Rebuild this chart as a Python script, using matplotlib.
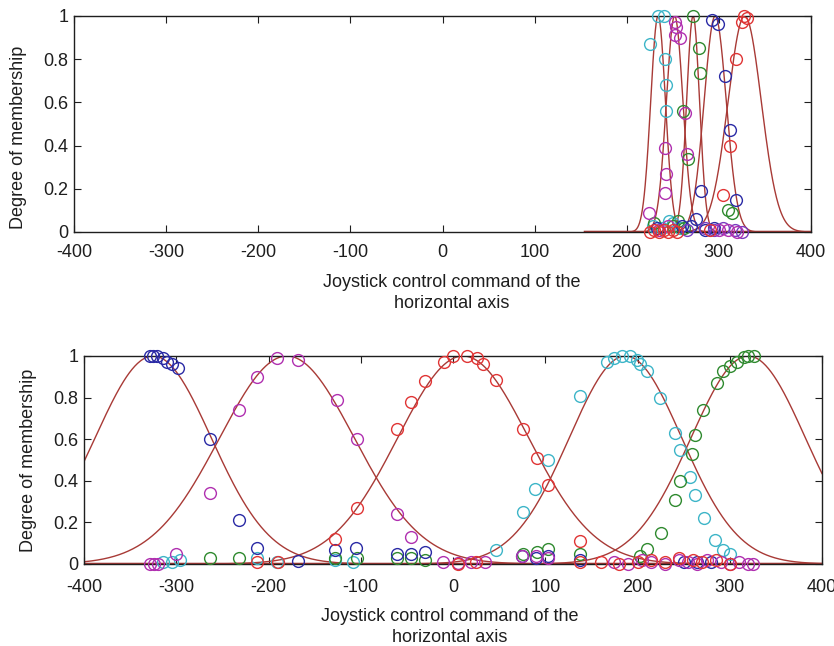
import numpy as np
import matplotlib
matplotlib.use("Agg")
import matplotlib.pyplot as plt

plt.rcParams['font.family'] = ['Liberation Sans', 'DejaVu Sans']

# ---------------- data ----------------
x_ticks = [-400, -300, -200, -100, 0, 100, 200, 300, 400]
y_ticks = [0, 0.2, 0.4, 0.6, 0.8, 1]
y_tick_labels = ['0', '0.2', '0.4', '0.6', '0.8', '1']
x_label = "Joystick control command of the\nhorizontal axis"
y_label = "Degree of membership"

# top panel: gaussian membership functions (centre, sigma)
top_centres = [234, 252, 272, 296, 328]
top_sigmas = [8, 9, 7, 12, 18]
top_range = (155, 400)

# bottom panel
bot_centres = [-325, -180, 11, 187, 320]
bot_sigmas = [63, 73, 71, 61, 62]
bot_range = (-400, 400)

# top panel points
top_cyan_x = [225, 234, 240, 242, 243, 243, 228, 238, 250, 258, 246]
top_cyan_y = [0.87, 1.0, 1.0, 0.80, 0.68, 0.56, 0.03, 0.02, 0.04, 0.02, 0.05]
top_mag_x = [252, 254, 252, 258, 242, 243, 242, 224, 265, 263, 235, 300, 310, 320, 245]
top_mag_y = [0.97, 0.95, 0.91, 0.90, 0.39, 0.27, 0.18, 0.09, 0.36, 0.55, 0.01, 0.01, 0.01, 0.0, 0.03]
top_green_x = [272, 278, 280, 261, 267, 310, 314, 250, 256, 262, 230]
top_green_y = [1.0, 0.85, 0.735, 0.56, 0.34, 0.10, 0.09, 0.03, 0.05, 0.02, 0.04]
top_blue_x = [292, 299, 307, 312, 281, 319, 233, 260, 275, 285, 295, 270]
top_blue_y = [0.98, 0.965, 0.72, 0.47, 0.19, 0.15, 0.02, 0.03, 0.06, 0.01, 0.02, 0.03]
top_red_x = [325, 327, 330, 319, 312, 305, 225, 230, 235, 240, 245, 250, 255, 290]
top_red_y = [0.97, 1.0, 0.99, 0.80, 0.40, 0.17, 0.0, 0.01, 0.0, 0.01, 0.0, 0.01, 0.0, 0.01]
top_purple_x = [285, 295, 305, 318, 325, 265]
top_purple_y = [0.02, 0.01, 0.02, 0.01, 0.0, 0.01]

# bottom panel points
bot_blue_x = [-328, -325, -321, -314, -310, -305, -298, -263, -232, -213, -168,
              -128, -105, -61, -45, -30, 75, 90, 103, 138, 250, 265, 280]
bot_blue_y = [1.0, 1.0, 1.0, 0.99, 0.97, 0.96, 0.94, 0.60, 0.21, 0.075, 0.015,
              0.065, 0.075, 0.05, 0.05, 0.06, 0.04, 0.03, 0.04, 0.02, 0.01, 0.01, 0.01]
bot_mag_x = [-328, -324, -320, -300, -263, -232, -213, -191, -168, -126, -104, -61, -45,
             -11, 5, 20, 35, 75, 90, 103, 175, 190, 205, 215, 230, 245, 255, 265, 275,
             290, 300, 310, 320, 325]
bot_mag_y = [0.0, 0.0, 0.0, 0.05, 0.34, 0.74, 0.90, 0.99, 0.98, 0.79, 0.60, 0.24, 0.13,
             0.01, 0.005, 0.01, 0.01, 0.04, 0.04, 0.03, 0.01, 0.0, 0.02, 0.01, 0.0, 0.02,
             0.01, 0.0, 0.02, 0.01, 0.0, 0.01, 0.0, 0.0]
bot_red_x = [-128, -104, -61, -45, -30, -10, 0, 15, 26, 33, 47, 76, 91, 103, 138,
             -213, -190, 138, 160, 180, 200, 215, 230, 245, 260, 270, 285, 300, 5, 25]
bot_red_y = [0.12, 0.27, 0.65, 0.78, 0.88, 0.97, 1.0, 1.0, 0.99, 0.96, 0.885, 0.65, 0.51,
             0.38, 0.11, 0.01, 0.01, 0.01, 0.01, 0.0, 0.01, 0.02, 0.01, 0.03, 0.02, 0.01,
             0.02, 0.0, 0.0, 0.01]
bot_cyan_x = [-314, -305, -296, -213, -191, -128, -108, 47, 76, 89, 103, 138, 167, 174,
              183, 192, 199, 203, 210, 224, 241, 246, 257, 262, 272, 284, 293, 300]
bot_cyan_y = [0.01, 0.01, 0.02, 0.03, 0.01, 0.02, 0.01, 0.067, 0.25, 0.36, 0.50, 0.81,
              0.97, 0.99, 1.0, 1.0, 0.98, 0.96, 0.93, 0.80, 0.63, 0.55, 0.42, 0.33, 0.22,
              0.115, 0.067, 0.05]
bot_green_x = [-263, -232, -128, -104, -61, -45, -30, 76, 91, 103, 138, 203, 210, 226,
               241, 246, 259, 262, 271, 286, 293, 300, 308, 315, 320, 326]
bot_green_y = [0.03, 0.03, 0.03, 0.03, 0.03, 0.03, 0.02, 0.05, 0.06, 0.07, 0.05, 0.04,
               0.07, 0.15, 0.31, 0.40, 0.53, 0.62, 0.74, 0.87, 0.93, 0.95, 0.97, 0.995,
               1.0, 1.0]

# ---------------- style ----------------
C_CURVE = '#a83a36'
C_BASE = '#8e1414'
C_CYAN = '#3db5c8'
C_MAG = '#b030b0'
C_GREEN = '#2f8a2f'
C_BLUE = '#2a2aa5'
C_RED = '#e03535'
C_PURPLE = '#7a3cc0'
C_TEXT = '#1e1e1e'
FS = 13


def gauss(x, c, s):
    return np.exp(-(x - c) ** 2 / (2.0 * s ** 2))


def style_axes(ax, xlabel_xy, ylabel_xy, xpad):
    ax.set_xlim(-400, 400)
    ax.set_ylim(0, 1)
    ax.set_xticks(x_ticks)
    ax.set_xticklabels([str(t) for t in x_ticks])
    ax.set_yticks(y_ticks)
    ax.set_yticklabels(y_tick_labels)
    ax.tick_params(direction='in', top=True, right=True, length=5, width=0.8,
                   labelsize=FS, colors=C_TEXT)
    ax.tick_params(axis='x', pad=xpad)
    ax.tick_params(axis='y', pad=4)
    for sp in ax.spines.values():
        sp.set_linewidth(1.0)
        sp.set_color(C_TEXT)
    ax.set_xlabel(x_label, fontsize=FS, linespacing=1.3, color=C_TEXT)
    ax.xaxis.set_label_coords(*xlabel_xy)
    ax.set_ylabel(y_label, fontsize=FS, color=C_TEXT)
    ax.yaxis.set_label_coords(*ylabel_xy)


def draw_points(ax, groups):
    for xs, ys, col in groups:
        ax.plot(xs, ys, linestyle='none', marker='o', markersize=8.5,
                markerfacecolor='none', markeredgecolor=col, markeredgewidth=1.0,
                clip_on=False, zorder=3)


fig = plt.figure(figsize=(8.34, 6.46), dpi=100)

# top panel
ax1 = fig.add_axes([74 / 834, 1 - 232 / 646, 737 / 834, 216 / 646])
xt = np.linspace(top_range[0], top_range[1], 491)
ax1.plot(xt, np.zeros_like(xt), color=C_BASE, lw=2.5, zorder=2)
for c, s in zip(top_centres, top_sigmas):
    ax1.plot(xt, gauss(xt, c, s), color=C_CURVE, lw=1.0, zorder=2)
draw_points(ax1, [
    (top_cyan_x, top_cyan_y, C_CYAN),
    (top_green_x, top_green_y, C_GREEN),
    (top_blue_x, top_blue_y, C_BLUE),
    (top_purple_x, top_purple_y, C_PURPLE),
    (top_mag_x, top_mag_y, C_MAG),
    (top_red_x, top_red_y, C_RED),
])
style_axes(ax1, (0.513, -0.195), (-0.064, 0.44), 9)

# bottom panel
ax2 = fig.add_axes([84 / 834, 1 - 564 / 646, 738 / 834, 208 / 646])
xb = np.linspace(bot_range[0], bot_range[1], 801)
ax2.plot(xb, np.zeros_like(xb), color=C_BASE, lw=2.5, zorder=2)
for c, s in zip(bot_centres, bot_sigmas):
    ax2.plot(xb, gauss(xb, c, s), color=C_CURVE, lw=1.0, zorder=2)
draw_points(ax2, [
    (bot_cyan_x, bot_cyan_y, C_CYAN),
    (bot_green_x, bot_green_y, C_GREEN),
    (bot_blue_x, bot_blue_y, C_BLUE),
    (bot_mag_x, bot_mag_y, C_MAG),
    (bot_red_x, bot_red_y, C_RED),
])
style_axes(ax2, (0.495, -0.212), (-0.064, 0.5), 11)

fig.savefig('out.png', dpi=100)
